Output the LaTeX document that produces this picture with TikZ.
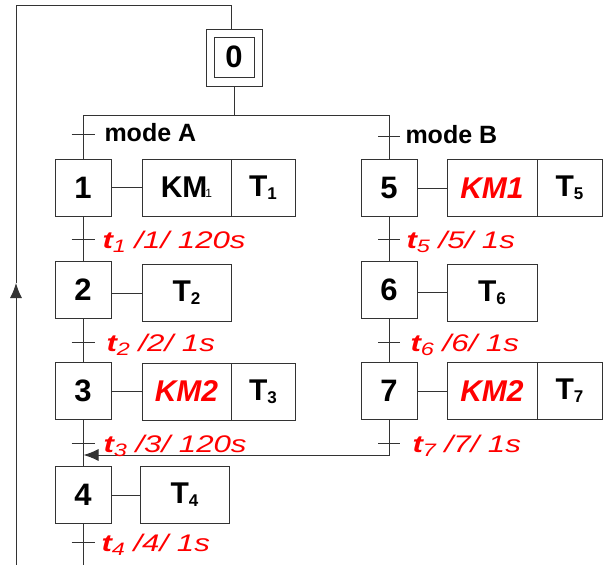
\documentclass[tikz,border=0pt]{standalone}
\usepackage{fontspec}
\setmainfont{Liberation Sans}
\newfontfamily\largefont[FakeStretch=1.3]{Liberation Sans}
\usetikzlibrary{arrows.meta}
\newcommand\tempo[1]{T\raisebox{-3pt}{\fontsize{17}{17}\selectfont#1}}
\newcommand\recept[2]{{\bfseries t}\raisebox{-4pt}{\fontsize{18}{18}\selectfont#1} /#1/ #2}
\begin{document}
\begin{tikzpicture}[x=1pt,y=-1pt,line width=1pt,
  fleche/.style={-{Latex[length=15pt,width=12pt]}},
  etape/.style={draw=black!80,minimum width=56pt,minimum height=57pt,inner sep=0pt,font=\fontsize{31}{31}\selectfont\bfseries},
  action/.style={draw=black!80,minimum height=57pt,inner sep=0pt,font=\fontsize{30}{30}\selectfont\bfseries},
  ordre/.style={text=red,font=\fontsize{30}{30}\selectfont\bfseries\itshape},
  recep/.style={anchor=base west,inner sep=0pt,text=red,font=\largefont\fontsize{24}{24}\selectfont\itshape},
  modetxt/.style={anchor=base west,inner sep=0pt,font=\fontsize{25}{25}\selectfont\bfseries}]
                \useasboundingbox (0,0) rectangle (608,565);

                \node[etape] (s0) at (234,57.5) {};
                \node[draw=black!80,minimum size=40pt,inner sep=0pt,font=\fontsize{31}{31}\selectfont\bfseries] (s0i) at (234,57) {0};
                \node[etape] (s1) at (83,187.5) {1};
                \node[etape] (s2) at (83,290) {2};
                \node[etape] (s3) at (83,391) {3};
                \node[etape] (s4) at (83,495) {4};
                \node[etape] (s5) at (389,188) {5};
                \node[etape] (s6) at (389,290) {6};
                \node[etape] (s7) at (389,391) {7};

                \node[action,minimum width=89pt] (a1) at (186.5,187.5) {KM\kern-2pt{\fontsize{12}{12}\selectfont\mdseries 1}};
                \node[action,minimum width=64pt] (a1t) at (263,187.5) {\tempo{1}};
                \node[action,minimum width=89pt] (a2) at (186.5,293) {\tempo{2}};
                \node[action,minimum width=89pt,ordre] (a3) at (186.5,391.5) {KM2};
                \node[action,minimum width=64pt] (a3t) at (263,391.5) {\tempo{3}};
                \node[action,minimum width=89pt] (a4) at (184.5,495) {\tempo{4}};
                \node[action,minimum width=90pt,ordre] (a5) at (492,188) {KM1};
                \node[action,minimum width=65pt] (a5t) at (569.5,188) {\tempo{5}};
                \node[action,minimum width=90pt] (a6) at (492,292.5) {\tempo{6}};
                \node[action,minimum width=90pt,ordre] (a7) at (492,391) {KM2};
                \node[action,minimum width=65pt] (a7t) at (569.5,391) {\tempo{7}};

                \coordinate (dA) at (83,115);
                \coordinate (dB) at (389,115);
                \coordinate (mA) at (83,134);
                \coordinate (mB) at (389,136);
                \coordinate (t1) at (83,239);
                \coordinate (t2) at (83,342);
                \coordinate (t3) at (83,443);
                \coordinate (t4) at (83,542);
                \coordinate (t5) at (389,239);
                \coordinate (t6) at (389,342);
                \coordinate (t7) at (389,443);
                \coordinate (fin) at (83,565);
                \coordinate (ret) at (83.5,455);
                \coordinate (bas) at (16,565);
                \coordinate (fl) at (16,283);
                \coordinate (haut) at (16,5.5);

                \begin{scope}[draw=black!80]
                \draw (s0.south) -- (s0.south |- dA);
                \draw (dA) -- (dB);
                \draw (dA) -- (s1.north);
                \draw (dB) -- (s5.north);
                \draw (s1) -- (s2);
                \draw (s2) -- (s3);
                \draw (s3) -- (s4);
                \draw (s4.south) -- (fin);
                \draw (s5) -- (s6);
                \draw (s6) -- (s7);
                \draw[fleche] (s7.south) |- (ret);
                \draw[fleche] (bas) -- (fl);
                \draw (fl) -- (haut) -| ([xshift=-3pt]s0.north);

                \draw (a1.west) -- (a1.west -| s1.east);
                \draw (a2.west) -- (a2.west -| s2.east);
                \draw (a3.west) -- (a3.west -| s3.east);
                \draw (a4.west) -- (a4.west -| s4.east);
                \draw (a5.west) -- (a5.west -| s5.east);
                \draw (a6.west) -- (a6.west -| s6.east);
                \draw (a7.west) -- (a7.west -| s7.east);

                \draw ([xshift=-11.5pt]mA) -- ([xshift=11.5pt]mA);
                \draw ([xshift=-11pt]mB) -- ([xshift=11pt]mB);
                \draw ([xshift=-11.5pt]t1) -- ([xshift=11.5pt]t1);
                \draw ([xshift=-11.5pt]t2) -- ([xshift=11.5pt]t2);
                \draw ([xshift=-11.5pt]t3) -- ([xshift=11.5pt]t3);
                \draw ([xshift=-11.5pt]t4) -- ([xshift=11.5pt]t4);
                \draw ([xshift=-11pt]t5) -- ([xshift=11pt]t5);
                \draw ([xshift=-11pt]t6) -- ([xshift=11pt]t6);
                \draw ([xshift=-11pt]t7) -- ([xshift=11pt]t7);
                \end{scope}

                \node[modetxt] (lA) at (104,141) {mode A};
                \node[modetxt] (lB) at (405,143) {mode B};
                \node[recep] (r1) at (102,248) {\recept{1}{120s}};
                \node[recep] (r2) at (106,351) {\recept{2}{1s}};
                \node[recep] (r3) at (103,452) {\recept{3}{120s}};
                \node[recep] (r4) at (101,551) {\recept{4}{1s}};
                \node[recep] (r5) at (406,248) {\recept{5}{1s}};
                \node[recep] (r6) at (410,351) {\recept{6}{1s}};
                \node[recep] (r7) at (412,452) {\recept{7}{1s}};
            \end{tikzpicture}
\end{document}
